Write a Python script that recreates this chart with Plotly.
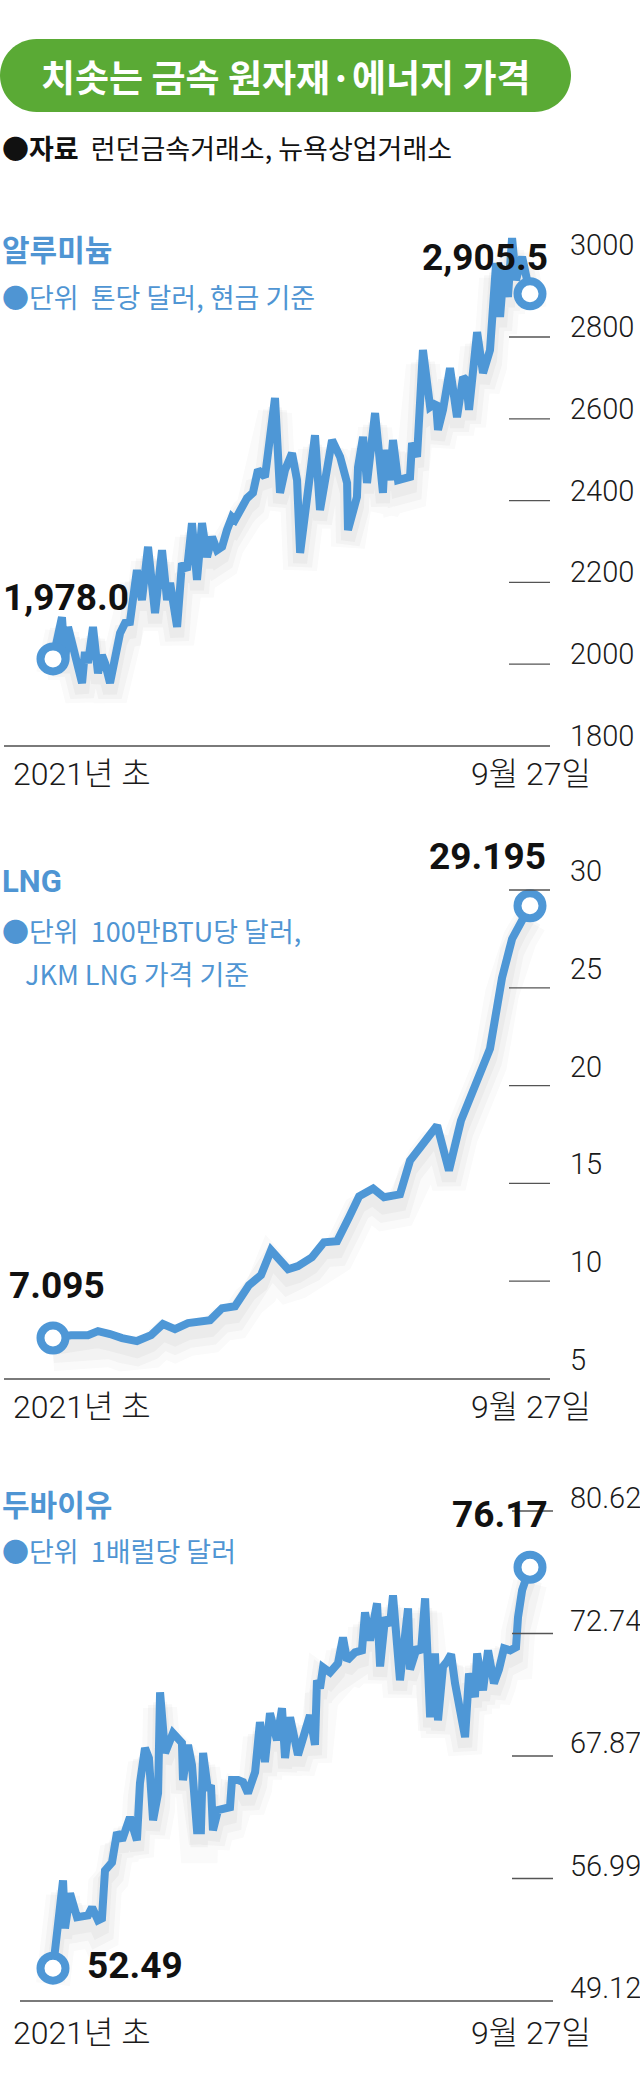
import numpy as np
import plotly.graph_objects as go

# ---------------- data ----------------
# x = trading-day offset from the start of 2021 (0) to Sep 27 (266)
alu_day = [0, 5.0, 6.7, 8.4, 16.2, 17.8, 19.5, 22.3, 25.1, 27.3,
           29.0, 31.8, 37.4, 40.2, 42.9, 46.8, 49.6, 53.0, 56.9, 60.8,
           63.6, 65.3, 69.2, 71.9, 74.7, 77.5, 80.3, 83.1, 85.9, 88.7,
           91.5, 94.3, 97.0, 99.8, 101.5, 106.0, 108.2, 111.5, 114.3, 118.2,
           123.8, 126.6, 129.4, 133.3, 136.1, 137.8, 141.7, 146.1, 148.9, 155.6,
           160.1, 164.0, 164.5, 169.5, 170.1, 172.9, 175.1, 179.6, 184.0, 185.2,
           187.9, 189.6, 192.4, 199.1, 200.2, 203.0, 206.3, 210.3, 213.6, 214.7,
           217.5, 221.4, 225.3, 228.7, 230.3, 232.0, 236.5, 239.8, 243.7, 247.1,
           249.3, 251.5, 253.7, 256.0, 258.2, 261.6, 266.0]
alu_price = [2013, 2115, 2003, 2091, 1954, 2030, 2003, 2091, 1978, 2022,
             2003, 1954, 2076, 2101, 2103, 2230, 2157, 2287, 2125, 2279,
             2157, 2199, 2091, 2247, 2230, 2345, 2206, 2345, 2262, 2311,
             2279, 2287, 2328, 2360, 2353, 2394, 2406, 2419, 2475, 2458,
             2651, 2419, 2475, 2516, 2450, 2272, 2409, 2560, 2377, 2548,
             2507, 2443, 2328, 2409, 2482, 2556, 2443, 2614, 2419, 2524,
             2450, 2548, 2450, 2458, 2541, 2507, 2768, 2629, 2639, 2573,
             2622, 2724, 2604, 2702, 2695, 2622, 2812, 2712, 2768, 2981,
             2849, 2971, 2898, 3042, 2939, 2996, 2905.5]
alu_ticks = [1800, 2000, 2200, 2400, 2600, 2800, 3000]
alu_tick_labels = ["1800", "2000", "2200", "2400", "2600", "2800", "3000"]

lng_day = [0, 10.0, 19.5, 25.1, 31.8, 38.5, 46.8, 54.7, 61.3, 68.0,
           75.3, 87.6, 94.3, 101.5, 109.3, 116.0, 121.6, 131.1, 136.6, 144.4,
           151.1, 158.4, 165.1, 170.7, 178.5, 184.6, 193.5, 199.1, 206.9, 214.2,
           220.8, 227.5, 243.7, 250.4, 256.0, 260.4, 266.0]
lng_price = [7.095, 7.24, 7.24, 7.45, 7.30, 7.09, 6.94, 7.24, 7.81, 7.55,
             7.86, 8.01, 8.62, 8.72, 9.80, 10.31, 11.58, 10.61, 10.77, 11.22,
             11.99, 12.04, 13.27, 14.34, 14.74, 14.29, 14.44, 16.17, 17.09, 17.96,
             15.66, 18.21, 21.89, 25.51, 27.50, 28.32, 29.195]
lng_ticks = [5, 10, 15, 20, 25, 30]
lng_tick_labels = ["5", "10", "15", "20", "25", "30"]

dub_day = [0, 2.8, 5.6, 6.7, 9.5, 13.4, 19.5, 21.8, 25.1, 27.3,
           29.0, 32.9, 35.7, 38.5, 42.9, 46.8, 48.5, 51.3, 53.5, 55.8,
           58.6, 59.7, 62.5, 66.9, 71.9, 72.5, 75.3, 77.5, 80.3, 82.5,
           83.7, 86.4, 88.1, 89.2, 92.0, 98.7, 99.8, 103.2, 106.0, 108.7,
           112.7, 115.4, 118.2, 121.0, 124.9, 127.7, 129.4, 132.2, 136.6, 143.3,
           146.1, 147.2, 148.9, 150.6, 154.5, 158.9, 161.7, 164.0, 168.4, 172.3,
           174.0, 176.8, 180.7, 182.4, 185.2, 187.9, 189.6, 193.5, 198.0, 199.1,
           203.0, 205.2, 207.5, 210.3, 213.0, 214.7, 217.5, 219.7, 222.0, 224.2,
           229.8, 232.0, 235.3, 236.5, 239.8, 242.6, 245.9, 248.7, 251.5, 254.9,
           258.2, 259.3, 261.6, 266.0]
dub_price = [51.23, 53.85, 56.86, 53.79, 56.03, 54.50, 54.62, 55.14, 54.30, 54.43,
             57.70, 58.42, 61.09, 60.38, 62.43, 60.38, 65.46, 68.19, 67.69, 62.16,
             64.57, 70.40, 67.99, 68.78, 68.39, 65.73, 68.31, 67.07, 61.27, 61.27,
             67.99, 64.84, 65.28, 61.27, 63.06, 63.32, 65.73, 65.73, 65.55, 64.57,
             66.44, 69.22, 67.34, 69.57, 68.50, 69.77, 67.69, 69.41, 67.91, 69.49,
             68.31, 70.88, 70.56, 71.39, 71.19, 71.55, 72.58, 71.67, 71.99, 72.07,
             74.10, 72.46, 74.68, 71.43, 73.77, 73.26, 75.19, 70.88, 74.35, 71.31,
             72.19, 71.99, 75.00, 69.41, 71.95, 69.29, 71.43, 71.63, 71.91, 70.76,
             68.62, 71.15, 70.21, 71.95, 70.48, 72.07, 70.76, 71.31, 72.15, 72.07,
             72.19, 73.77, 75.52, 77.0]
dub_ticks = [49.12, 56.99, 67.87, 72.74, 80.62]
dub_tick_labels = ["49.12", "56.99", "67.87", "72.74", "80.62"]

x_labels = ["2021년 초", "9월 27일"]
callouts = {"alu": ["1,978.0", "2,905.5"], "lng": ["7.095", "29.195"], "dub": ["52.49", "76.17"]}

# ---------------- layout helpers ----------------
W, H = 640, 2087
BLUE = "#4e97d6"
TXT_BLUE = "#4f95d3"
GREEN = "#5aaa35"
NUM_FONT = "Roboto, 'Noto Sans CJK KR', sans-serif"
KR_FONT = "'Noto Sans CJK KR', Roboto, sans-serif"
NB = "\u00a0"


def px(x):
    return x / W


def py(y):
    return 1 - y / H


X0_PX, X1_PX = 53, 530
DPP = 266 / (X1_PX - X0_PX)
X_RANGE = [-X0_PX * DPP, (W - X0_PX) * DPP]


def y_axis(top_px, bot_px, v_a, p_a, v_b, p_b):
    slope = (v_b - v_a) / (p_b - p_a)
    return dict(domain=[py(bot_px), py(top_px)],
                range=[v_a + (bot_px - p_a) * slope, v_a + (top_px - p_a) * slope],
                visible=False, fixedrange=True), slope


fig = go.Figure()
shapes, annos = [], []

# Dubai uses an evenly spaced tick ladder: map values onto tick positions
dub_pos = list(np.interp(dub_price, dub_ticks, np.arange(len(dub_ticks))))

charts = [
    dict(key="alu", ax="", day=alu_day, y=list(alu_price), ticks=alu_ticks, tl=alu_tick_labels,
         tickpos=alu_ticks, axis=y_axis(190, 780, 1800, 746, 2800, 337),
         base_px=746, grid_x=(509, 550), base_x0=4, tick_shift=10, grid_skip=[3000],
         xlab_y=774),
    dict(key="lng", ax="2", day=lng_day, y=list(lng_price), ticks=lng_ticks, tl=lng_tick_labels,
         tickpos=lng_ticks, axis=y_axis(830, 1400, 5, 1379, 30, 890),
         base_px=1379, grid_x=(509, 550), base_x0=4, tick_shift=19, grid_skip=[],
         xlab_y=1407),
    dict(key="dub", ax="3", day=dub_day, y=dub_pos, ticks=dub_ticks, tl=dub_tick_labels,
         tickpos=list(range(len(dub_ticks))), axis=y_axis(1470, 2015, 0, 2001, 4, 1511),
         base_px=2001, grid_x=(512, 553), base_x0=20, tick_shift=13, grid_skip=[],
         xlab_y=2033),
]

layout_axes = {}
for c in charts:
    ax = c["ax"]
    yax_cfg, slope = c["axis"]
    layout_axes["xaxis" + ax] = dict(domain=[0, 1], range=X_RANGE, visible=False, fixedrange=True,
                                     anchor="y" + ax)
    layout_axes["yaxis" + ax] = dict(yax_cfg, anchor="x" + ax)
    xa, ya = "x" + ax, "y" + ax
    # soft shadow under the line
    for off, wdt, alpha in [(16, 34, 0.025), (13, 24, 0.035), (10, 14, 0.045)]:
        fig.add_trace(go.Scatter(x=c["day"], y=[v + off * slope for v in c["y"]], mode="lines",
                                 line=dict(color=f"rgba(60,60,60,{alpha})", width=wdt),
                                 xaxis=xa, yaxis=ya, hoverinfo="skip", cliponaxis=False))
    fig.add_trace(go.Scatter(x=c["day"], y=c["y"], mode="lines",
                             line=dict(color=BLUE, width=8), xaxis=xa, yaxis=ya,
                             hoverinfo="skip", cliponaxis=False))
    fig.add_trace(go.Scatter(x=[c["day"][0], c["day"][-1]], y=[c["y"][0], c["y"][-1]],
                             mode="markers", xaxis=xa, yaxis=ya, cliponaxis=False,
                             marker=dict(size=25, color="white", line=dict(color=BLUE, width=8)),
                             hoverinfo="skip"))
    # tick ladder
    for tv, tp, tl in zip(c["ticks"], c["tickpos"], c["tl"]):
        if tv == c["ticks"][0]:
            shapes.append(dict(type="line", xref="paper", yref=ya, x0=px(c["base_x0"]),
                               x1=px(c["grid_x"][1]), y0=tp, y1=tp,
                               line=dict(color="#7a7a7a", width=2)))
        elif tv not in c["grid_skip"]:
            shapes.append(dict(type="line", xref="paper", yref=ya, x0=px(c["grid_x"][0]),
                               x1=px(c["grid_x"][1]), y0=tp, y1=tp,
                               line=dict(color="#555555", width=1.3)))
        annos.append(dict(text=tl, xref="paper", yref=ya, x=px(568), y=tp, xanchor="left",
                          yanchor="middle", yshift=c["tick_shift"], showarrow=False,
                          font=dict(family=NUM_FONT, size=29, color="#1a1a1a", weight=300)))
    # x labels
    annos.append(dict(text=x_labels[0], xref="paper", yref="paper", x=px(11), y=py(c["xlab_y"]),
                      xanchor="left", yanchor="middle", showarrow=False,
                      font=dict(family=NUM_FONT, size=32, color="#1a1a1a", weight=300)))
    annos.append(dict(text=x_labels[1], xref="paper", yref="paper", x=px(593), y=py(c["xlab_y"]),
                      xanchor="right", yanchor="middle", showarrow=False,
                      font=dict(family=NUM_FONT, size=32, color="#1a1a1a", weight=300)))

# ---------------- callout values ----------------
def callout(text, x, y, anchor):
    annos.append(dict(text=text, xref="paper", yref="paper", x=px(x), y=py(y), xanchor=anchor,
                      yanchor="middle", showarrow=False,
                      font=dict(family=NUM_FONT, size=37, color="#111111", weight=700)))


callout(callouts["alu"][0], 1, 597, "left")
callout(callouts["alu"][1], 550, 257, "right")
callout(callouts["lng"][0], 7, 1285, "left")
callout(callouts["lng"][1], 548, 856, "right")
callout(callouts["dub"][0], 85, 1965, "left")
callout(callouts["dub"][1], 550, 1514, "right")

# ---------------- header & section texts ----------------
def text(t, x, y, size, color, weight=400, anchor="left", family=KR_FONT):
    annos.append(dict(text=t, xref="paper", yref="paper", x=px(x), y=py(y), xanchor=anchor,
                      yanchor="middle", showarrow=False,
                      font=dict(family=family, size=size, color=color, weight=weight)))


# title pill
L, R, T, B = 0, 571, 39, 112
r = (B - T) / 2
cy = (T + B) / 2
k = 0.5523 * r
pts = [("M", [(L + r, T)]), ("L", [(R - r, T)]),
       ("C", [(R - r + k, T), (R, cy - k), (R, cy)]),
       ("C", [(R, cy + k), (R - r + k, B), (R - r, B)]),
       ("L", [(L + r, B)]),
       ("C", [(L + r - k, B), (L, cy + k), (L, cy)]),
       ("C", [(L, cy - k), (L + r - k, T), (L + r, T)])]
path = " ".join(cmd + " " + " ".join(f"{px(a):.5f},{py(b):.5f}" for a, b in p) for cmd, p in pts) + " Z"
shapes.append(dict(type="path", xref="paper", yref="paper", path=path,
                   fillcolor=GREEN, line=dict(width=0), layer="below"))
text("치솟는 금속 원자재·에너지 가격", 286, 76, 37, "white", 700, "center")
text("<b>●자료</b>" + NB + NB + "런던금속거래소, 뉴욕상업거래소", 0, 148, 27, "#111111")

text("<b>알루미늄</b>", 0, 248, 30, TXT_BLUE)
text("●단위" + NB + NB + "톤당 달러, 현금 기준", 0, 296, 27, TXT_BLUE)
text("<b>LNG</b>", 0, 882, 31, TXT_BLUE, family=NUM_FONT)
text("●단위" + NB + NB + "100만BTU당 달러,", 0, 931, 27, TXT_BLUE)
text("JKM LNG 가격 기준", 23, 973, 27, TXT_BLUE)
text("<b>두바이유</b>", 0, 1503, 30, TXT_BLUE)
text("●단위" + NB + NB + "1배럴당 달러", 0, 1550, 27, TXT_BLUE)

fig.update_layout(width=W, height=H, autosize=False, margin=dict(l=0, r=0, t=0, b=0),
                  paper_bgcolor="white", plot_bgcolor="rgba(0,0,0,0)", showlegend=False,
                  shapes=shapes, annotations=annos, **layout_axes)
fig.write_html("out.html", config={"displayModeBar": False, "staticPlot": True})
